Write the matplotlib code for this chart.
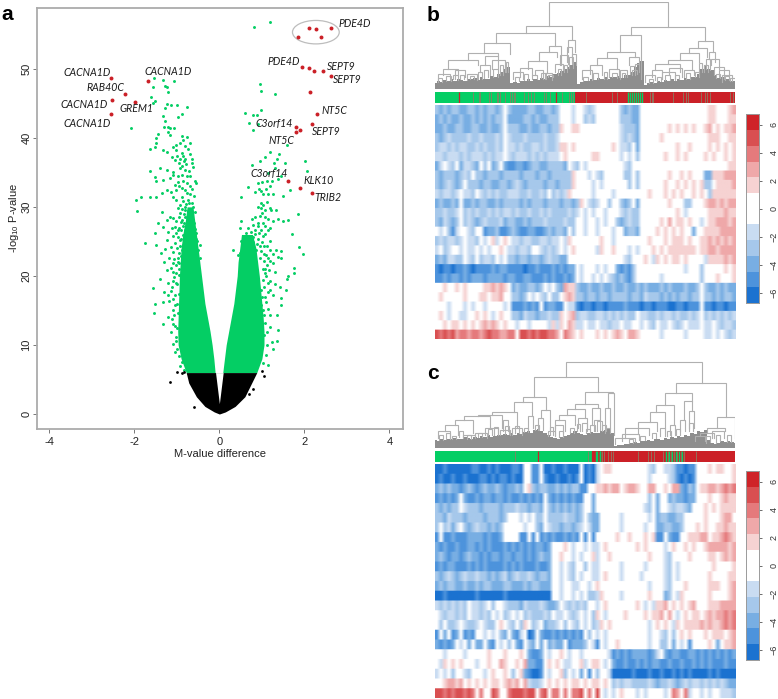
#!/usr/bin/env python3
# volcano plot (a) and two clustered methylation heatmaps (b, c)
import numpy as np
import matplotlib
matplotlib.use("Agg")
import matplotlib.pyplot as plt
from matplotlib.colors import to_rgb
from matplotlib.patches import Ellipse

plt.rcParams['font.family'] = ['Liberation Sans', 'DejaVu Sans']
plt.rcParams['mathtext.default'] = 'regular'

W, H = 778, 699
GREEN = '#04CE64'
RED = '#CB2027'
LINE = '#ABABAB'

# =============================================================================
# Volcano data
# =============================================================================
red_points = [(2.10, 55.85), (2.27, 55.8), (2.62, 55.9), (1.86, 54.6), (2.40, 54.6),
              (1.94, 50.3), (2.10, 50.1), (2.22, 49.7), (2.44, 49.7), (2.62, 48.9),
              (2.14, 46.6), (2.29, 43.4), (2.17, 42.0), (1.81, 41.5), (1.90, 41.1),
              (1.81, 40.8), (1.62, 33.8), (1.90, 32.8), (2.17, 32.0), (-2.54, 48.7),
              (-1.68, 48.3), (-2.22, 46.3), (-2.52, 45.5), (-1.99, 45.2), (-2.55, 43.4)]

gene_names = ['CACNA1D', 'CACNA1D', 'RAB40C', 'CACNA1D', 'GREM1', 'CACNA1D', 'PDE4D',
              'PDE4D', 'SEPT9', 'SEPT9', 'NT5C', 'C3orf14', 'SEPT9', 'NT5C', 'C3orf14',
              'KLK10', 'TRIB2']
gene_x = [-3.12, -1.20, -2.69, -3.18, -1.96, -3.11, 3.19, 1.52, 2.87, 3.02, 2.70,
          1.29, 2.52, 1.46, 1.16, 2.33, 2.56]
gene_y = [49.5, 49.6, 47.3, 44.8, 44.2, 42.1, 56.6, 51.0, 50.4, 48.5, 43.9, 42.1,
          40.9, 39.6, 34.8, 33.8, 31.3]

# sparse green points, left arm
green_left = [(-1.53, 48.6), (-1.32, 48.4), (-1.07, 48.2), (-1.56, 47.3), (-1.28, 47.5),
              (-1.24, 47.3), (-1.20, 46.6), (-1.60, 45.9), (-1.52, 45.4), (-1.57, 45.0),
              (-2.08, 41.4), (-1.23, 44.9), (-1.13, 44.8), (-0.99, 44.8), (-0.76, 44.5),
              (-1.28, 44.3), (-1.32, 43.1), (-0.89, 43.5), (-0.97, 43.0), (-1.27, 42.5),
              (-1.30, 41.6), (-1.20, 41.6), (-1.16, 41.4), (-1.07, 41.4), (-1.20, 40.9),
              (-1.15, 40.4), (-1.45, 40.5), (-1.48, 40.0), (-1.50, 39.2), (-1.52, 38.7),
              (-1.64, 38.4), (-0.89, 40.2), (-0.77, 40.1), (-0.85, 39.7), (-0.93, 39.2),
              (-1.01, 39.0), (-1.09, 38.7), (-1.32, 38.3), (-1.24, 38.0), (-1.01, 38.3),
              (-0.89, 37.8), (-0.69, 37.7), (-0.65, 36.9), (-0.65, 36.3), (-1.64, 35.2),
              (-1.40, 35.6), (-1.24, 35.4), (-1.09, 35.1), (-0.93, 35.6), (-0.81, 35.4),
              (-1.52, 34.3), (-1.48, 33.7), (-1.32, 33.9), (-1.16, 34.2), (-1.09, 34.6),
              (-0.97, 34.4), (-0.89, 34.6), (-0.77, 34.4), (-0.58, 33.7), (-0.54, 33.5),
              (-1.96, 31.0), (-1.85, 31.5), (-1.93, 29.4), (-1.64, 31.5), (-1.48, 31.5),
              (-1.35, 29.3), (-1.36, 32.0), (-1.24, 32.5), (-1.13, 32.2), (-1.09, 31.5),
              (-1.01, 31.0), (-0.89, 31.5), (-0.73, 31.0), (-0.65, 30.5), (-0.62, 30.0),
              (-0.81, 30.0), (-0.97, 29.8), (-0.93, 29.1), (-0.69, 29.1), (-1.09, 28.4),
              (-1.24, 28.1), (-1.16, 28.6), (-1.44, 27.6), (-1.52, 26.2), (-1.75, 24.7),
              (-1.48, 24.5), (-1.32, 27.1), (-1.20, 26.4), (-1.05, 27.1), (-0.89, 28.1),
              (-0.81, 28.6), (-0.62, 28.1), (-0.62, 27.1), (-0.54, 26.2), (-0.46, 24.5),
              (-1.24, 25.2), (-1.01, 26.2), (-0.93, 25.2), (-1.05, 24.7), (-0.77, 27.1),
              (-0.81, 26.2), (-0.69, 25.2), (-0.92, 37.0), (-0.84, 36.6), (-0.78, 36.2),
              (-0.95, 36.4), (-1.05, 36.8), (-1.12, 37.2), (-0.88, 35.9), (-0.72, 35.2),
              (-0.70, 34.4), (-0.85, 33.8), (-0.76, 33.4), (-0.70, 33.0), (-0.64, 32.6),
              (-0.95, 33.0), (-0.88, 32.8), (-0.82, 32.4), (-0.76, 32.0), (-0.68, 31.8),
              (-0.72, 30.6), (-0.78, 30.4), (-0.85, 30.8), (-0.92, 30.3), (-0.88, 29.7),
              (-0.80, 29.6), (-0.74, 29.4), (-0.66, 29.6), (-0.71, 28.8), (-0.77, 28.6),
              (-0.84, 28.9), (-0.95, 28.5), (-0.90, 27.8), (-0.83, 27.7), (-0.75, 28.0),
              (-0.68, 27.9), (-0.60, 27.6), (-0.70, 27.2), (-0.86, 27.2), (-0.95, 27.0),
              (-0.90, 26.6), (-0.82, 26.7), (-0.74, 26.8), (-0.66, 26.6), (-0.58, 26.8),
              (-0.62, 26.0), (-0.72, 26.1), (-0.78, 25.8), (-0.86, 25.9), (-0.98, 25.6),
              (-1.10, 25.8), (-0.90, 25.3), (-0.82, 25.3), (-0.75, 25.4), (-0.64, 25.3),
              (-0.56, 25.4), (-0.60, 24.6), (-0.68, 24.7), (-0.74, 24.6), (-0.80, 24.7),
              (-0.86, 24.5), (-0.92, 24.3), (-1.00, 24.0), (-1.14, 24.2), (-1.28, 23.9),
              (-1.38, 23.3), (-1.10, 23.4), (-0.96, 23.3), (-0.88, 23.7), (-0.82, 23.9),
              (-0.76, 23.8), (-0.70, 23.9), (-0.64, 23.9), (-0.57, 24.0), (-0.50, 23.7),
              (-0.52, 23.0), (-0.60, 23.2), (-0.66, 23.1), (-0.72, 23.2), (-0.78, 23.2),
              (-0.84, 23.1), (-0.90, 22.9), (-0.98, 22.6), (-1.06, 22.4), (-1.18, 22.6),
              (-1.30, 22.0), (-1.10, 21.8), (-1.02, 21.6), (-0.94, 21.9), (-0.46, 22.6),
              (-1.10, 20.6), (-1.02, 20.4), (-0.96, 20.2), (-1.24, 20.8), (-1.40, 19.6),
              (-1.22, 19.0), (-1.08, 19.2), (-1.00, 18.8), (-1.56, 18.2), (-1.30, 17.6),
              (-1.14, 17.8), (-1.04, 17.2), (-0.96, 17.4), (-1.52, 16.0), (-1.32, 16.2),
              (-1.18, 16.4), (-1.04, 15.8), (-1.53, 14.7), (-1.32, 13.0), (-1.20, 14.1),
              (-1.09, 13.1), (-1.13, 11.9), (-1.01, 11.2), (-1.09, 10.2), (-1.05, 9.0),
              (-0.89, 7.6), (-0.93, 6.9), (-1.00, 12.4), (-0.98, 14.6), (-1.10, 15.0),
              (-1.14, 21.2), (-1.06, 19.8), (-1.12, 18.4), (-1.20, 17.2), (-1.08, 16.6),
              (-1.02, 19.0), (-1.00, 16.0), (-1.06, 14.4), (-1.12, 13.8), (-1.04, 12.8),
              (-1.03, 10.6), (-0.99, 9.4), (-0.94, 8.4), (-0.84, 6.4), (-0.98, 22.0),
              (-0.96, 21.0), (-0.62, 35.8), (-0.80, 37.0), (-0.74, 38.4), (-0.82, 38.8),
              (-0.70, 39.2), (-0.86, 37.4), (-1.00, 37.4), (-0.98, 33.6), (-1.04, 33.2),
              (-1.02, 32.4), (-0.60, 31.6), (-0.58, 29.2), (-1.02, 28.0), (-0.98, 26.6),
              (-0.52, 25.0), (-1.12, 27.0)]

# sparse green points, right arm
green_right = [(1.20, 56.8), (0.82, 56.1), (0.96, 47.8), (0.97, 46.8), (1.32, 46.4), (0.60, 43.6),
               (0.80, 43.3), (0.98, 44.0), (0.88, 43.3), (0.70, 42.2), (0.90, 42.0), (0.80, 41.2),
               (1.60, 38.9), (1.20, 38.0), (1.41, 37.6), (1.07, 37.2), (0.95, 36.7), (1.36, 36.9),
               (0.76, 36.1), (1.28, 36.4), (1.54, 36.4), (2.01, 36.6), (2.05, 35.2), (1.15, 34.9),
               (1.46, 34.4), (1.11, 33.7), (1.23, 33.7), (1.38, 34.0), (1.66, 32.4), (0.68, 32.9),
               (0.94, 32.6), (0.84, 32.2), (0.99, 32.3), (1.03, 31.8), (1.15, 31.8), (1.26, 31.8),
               (1.50, 31.6), (0.50, 31.4), (0.97, 30.6), (1.03, 30.3), (0.99, 29.8), (1.07, 29.6),
               (1.22, 29.6), (1.34, 29.6), (1.01, 29.1), (1.84, 28.9), (0.76, 28.2), (0.52, 27.9),
               (0.91, 27.7), (1.03, 27.7), (1.27, 27.9), (1.38, 28.2), (1.50, 27.9), (1.62, 28.1),
               (0.48, 26.9), (0.68, 26.9), (0.83, 26.7), (0.99, 26.7), (1.15, 26.7), (1.70, 26.0),
               (0.79, 25.7), (1.03, 25.8), (0.91, 25.3), (0.71, 25.1), (0.59, 24.8), (1.18, 25.0),
               (0.32, 23.8), (1.88, 24.2), (1.96, 23.2), (0.48, 23.3), (0.56, 23.1), (0.71, 23.5),
               (0.87, 23.8), (0.99, 23.6), (1.10, 23.1), (1.34, 23.8), (1.46, 23.6), (1.38, 22.8),
               (1.46, 22.6), (1.18, 22.1), (1.26, 21.9), (0.88, 24.6), (0.76, 24.2), (0.64, 24.3),
               (0.95, 24.3), (1.06, 24.4), (0.55, 24.0), (0.44, 23.0), (0.62, 22.8), (0.82, 22.9),
               (0.95, 22.6), (1.04, 22.2), (1.12, 21.6), (1.02, 21.0), (1.16, 20.8), (1.30, 20.6),
               (1.76, 21.2), (1.76, 20.4), (1.62, 20.0), (1.58, 19.6), (1.10, 20.0), (1.02, 19.4),
               (1.20, 19.2), (1.30, 18.8), (1.42, 18.4), (1.56, 18.0), (1.06, 18.4), (0.98, 18.0),
               (1.14, 17.6), (1.26, 17.2), (1.00, 17.0), (1.44, 16.8), (1.10, 16.2), (0.98, 15.8),
               (1.46, 15.8), (1.35, 14.3), (1.19, 14.3), (1.38, 12.2), (1.35, 10.6), (1.23, 10.5),
               (1.27, 9.4), (1.11, 10.0), (1.15, 7.1), (1.03, 7.4), (1.20, 12.6), (1.08, 13.2),
               (1.04, 11.4), (1.10, 8.6), (1.02, 15.0), (1.14, 15.2), (0.85, 26.0), (0.94, 26.2),
               (1.08, 26.0), (0.74, 26.4), (0.62, 26.2), (0.55, 25.6), (0.50, 25.0), (0.66, 25.6),
               (0.80, 24.9), (1.00, 24.9), (1.12, 24.3), (1.20, 23.7), (1.26, 23.2), (1.06, 23.2),
               (1.14, 22.6), (1.08, 21.0), (0.92, 27.2), (0.78, 27.4), (1.08, 27.2), (1.20, 27.0),
               (1.14, 28.2), (0.84, 28.6), (0.96, 28.7), (1.08, 28.6), (0.90, 30.0), (1.12, 30.7),
               (1.18, 29.9), (1.10, 32.6), (1.20, 33.0), (0.90, 33.4), (1.00, 33.6), (1.30, 35.6),
               (1.08, 20.4), (1.14, 19.0), (1.20, 18.0), (1.08, 17.0), (1.06, 14.4), (1.12, 11.9)]

black_points = [(-1.15, 4.6), (1.05, 5.5), (-1.00, 6.1), (-0.87, 5.9), (-0.83, 6.1),
                (1.01, 6.2), (0.78, 3.65), (-0.60, 1.0), (0.70, 2.9)]

# outline of the solid green mass: height, then outer and inner edge of each arm
mass_y = [6, 8, 10, 12, 14, 16, 18, 20, 22, 24, 26, 28, 30]
mass_left_outer = [-0.78, -0.90, -0.97, -0.98, -0.97, -0.96, -0.95, -0.94, -0.92, -0.90, -0.86, -0.80, -0.76]
mass_left_inner = [-0.10, -0.13, -0.17, -0.22, -0.28, -0.34, -0.38, -0.42, -0.46, -0.50, -0.54, -0.58, -0.62]
mass_right_y = [6, 8, 10, 12, 14, 16, 18, 20, 22, 24, 26]
mass_right_inner = [0.08, 0.12, 0.16, 0.22, 0.28, 0.34, 0.38, 0.42, 0.44, 0.48, 0.52]
mass_right_outer = [0.88, 1.00, 1.05, 1.05, 1.03, 1.00, 0.97, 0.94, 0.90, 0.86, 0.78]

# outline of the black mass below the significance line
black_y = [0.0, 0.3, 1.1, 2.5, 4.5, 6.0]
black_left_outer = [0.0, -0.12, -0.34, -0.54, -0.72, -0.78]
black_right_outer = [0.0, 0.14, 0.37, 0.60, 0.76, 0.88]
black_gap_y = [1.5, 6.0]
black_gap_half = [0.0, 0.09]

# =============================================================================
# Heatmap data: one string per row, '.' white, a-e blue, 1-5 red (light to strong)
# =============================================================================
heat_b = [
    "bcbcb bccbb cbcbb cb.bc cccbb ccbbc b...a ..aba ..... .bcbc c.... ..... ..... ...11 ...12",
    "cbcbc cbccb cbcbc bb.cc ccbbc bccbb b...a ..bab ..... .bbbc c.... ..... ..... ...11 ...11",
    "ccbcc bbccb bccbc cb.bb bccbc cbbcb b1..1 1.... ..... .abbb c.... ...1. 1.1.1 ..12. 1.112",
    "bcbab bbbab babbb ab.ab bbabb bbabb a.... ..... ..... .abab c.... .1... ..... ...11 1..11",
    "baaba baabb ababb ab.aa babba ababb a11.1 ..... ....1 .aab. c.... ..... 1..1. ...1. 1.1.1",
    "aabaa ababa aabab aa.ab aaaba babaa a.1.. ....1 1.... .a.a. b.... ..1.. 1.1.. ..1.1 ..1.1",
    "ca.ab .caab c.b.c b.cdd ccdcb bccbb bbc.a b.a.. ..... ..ab. ..... ..... ..... ..... ...11",
    "bcbbb cbab. bbcbb bcbbb bcbbb cbbcb bbbb1 ...a. ab... ..bb. b.... ...1. .1.1. ..cc1 11222",
    "bcbab cb.bb bcbbc cbbcb abcbb bbcbb cbbb1 ....a .a... ...b. b.... ..1.. 1.1.1 .1bb. 11112",
    "abaab a.aab .abab abbaa abbab bab.b aba1. ....a ....a ..... ...1. ..1.1 .1..1 .1.b1 11111",
    "cbccb c.ccb cbbcc bcbbb bcbcb bbcbb bcbbc b1.ab a..b. .bcb. c.... ...1. ..bb. ..122 12122",
    "bbabb a.bab abbab abaab abbab babab bbbab a.a.a ..a.. .abab b.... ..... 1.a.. ...11 11211",
    "bcabc b.bab cbabb bacbb ccbcb bbabb bbabb ..a.. a.a.. bcbab b.... .1.2. 11.1. .a.11 22212",
    ".a.bd a..ab ..dcc bddcb cddcc ddcbc bbc.b ..a.. a...a ..cbb c.... 1.1.1 .1..c ..111 12222",
    "babaa ba.aa b.a.1 a.1.a abaab baaba a.a1. ..... .1..a ..... ...1. ..1.1 11.1. .1121 21212",
    "a.ba. .a.aa .a.a. .1.aa baab. .abab a.a.1 ..... a1..1 ...a. a...1 .1.11 11111 .1122 12222",
    "cbcaa bb.ab .baab .a.bb cbbcb bcbab bcc.. ..... ..... ..ab. ..1.a 1.1.1 1.1.. ..a11 11212",
    "dedde ddcde ddddc dccdd ddedd cdddc dcdcc .a... a.a.. cdcdb ..... ..... ..a.. .b... ..1.1",
    "ddcdc cdcdc ccdcc ccdcc ddccd ddcdc ddcdc .a..a .a.ab cbcdb ..... .a... ..... .b... 1...1",
    "..1.. 1.1.. ..112 121.c bccbb cb.a. bc211 bccbc cbccb ccbcc bcbcc cbcbc ccbcc b.bcc bcbcc",
    ".1... ..1.. .11.1 12..b bcb.a .ab.b b.121 bbcbb cbbcb bbbcb bcabb bcbcb cbbcb b.bbc bcbbc",
    "...a. ..a.a ..a.. ..a.d ddcdc d.dcc dd.aa dedde ddedd ddcdd dedde dddee ddedd d.dde ddedd",
    ".1.a. .aa.. 1.1.a .1..b bcabb cbbab b1.12 baabb aabab ababb .aabb abaab abbab a.bab ababa",
    "..1.1 1.1.1 .1212 1.1.. a..a. ...a1 a1.21 aa.aa .aaba a.aa. .a.ab .aa.a ba.aa a.aa. abaab",
    "43434 23323 32343 32233 .4434 34433 2.321 .1... 1.1.1 21.22 1.... .a... ..a.. ..aa. a.aba",
]

heat_c = [
    "eedee eeeed deede deeed de..d d.eed eedee e.ede a.11. ..... ...ab ..aab ddedd ...1. 11..1",
    "edeed eedee edded edded ee..d d.dee deede d.ede a.... ..... ...a. ...ab deded ..... ....1",
    "cbcbc cdcbc dcbcc bcdcc bc.1b cbbcc bcbcb bdd.. 11212 2.122 1..22 ..1.2 2cdbc .1122 12323",
    "dcdcd c.cdd cdccd ccdcd dcdcd cd.cd cdcdc dd..c ..... ..... ...b. c..cb ccdcc ...1. .1211",
    "bcbcb b.abb bcbbb bcbbb abbcb bc.bc bcbcb cb..c ..... ..... ..ab. c..ab aabc. ..1.1 .1111",
    "bbcab bbcbb bbcbb bcb.. .a.a. bb.bb bbabb cb.bc c.... .a... ...a. cbbcc bb... ..1.. .122.",
    "b.bac a.bcb abbcb cb... ..a.. bc.ab bcbbc ba.ac c.... .a... ..a.. ccbbc cb... 1.1.. 11211",
    "d.ddc dddcc ccdcd dc... .dd.d .dcdc ddcdc d.d.d ..... 1..1. ..1.1 dd.cd d..11 122.1 12321",
    "cdcdd cddcc dcdcd ddcdc dcdcd ccdc. ..1.a ..a.a a.1.. ..... 1.1.. ..a.1 ..1.1 ..122 22212",
    "cbcdc cdcbc cdcdc cdccd ccdcd cbcc. .1..a .a..1 a..1. ..... ...1. ..ab. ...1. ...11 .1212",
    "dcdcc dddcd cdcdd ddcdc dcddd cddc. .a.ab ..b.a a.... .a... ..a.. ..ab. a.... ....1 ....1",
    "bcbab cbabb abbcb cbacb abbab cbbc. .a.ab .a..a a.1.. .a... .a... ..ab. a.... ...1. ...11",
    "cbcbb ccbcc bcbbc ccbbc ccbcb bccc. .a..a a..a. 1.... ..... ...a. ..ab. ..1.. ...11 1..12",
    "eedee eeeee deeee eedee eeeee eeee. .a..a .a.bb a1... .a... ...1. ..cb. a1... ...1. ...12",
    "ababa bab.a aba.b ..abb bcabb babcc b.aba bab.. a.1.. ..... 1.a.a 112.1 .1.12 ...11 12222",
    ".abaa bab.a abab. a.ba. a.bab bbab. aa.ab a.a.b 1.a.. ..1.. ..1.1 12.2. a.1.1 1.121 22323",
    ".b.bb a.abb a.abb .1.ab .b1.b a.cbb a.b.a b.a.b a1.1. ..... ...a. 1.1.a 1.111 12121 12323",
    "d.c.d c.dcd ..a.a .bc.c da.ed .cddc dcdcd cd.b. a.a.. ..... ...a. .ab.b .1.1. ..1.1 11.12",
    "cdcdc .a.c. cc.cd .a.b. cd.bc .c.cb cc.dc ccb.a d.a.. 1.... ...a. .bb.c .a.d. ...1. c.112",
    "..a.. ..a.. ...1. ..1.. .1.cd dc.a. .1.a. .a... ...ad cdcdc cccdc a.cdc cddcc dcdcd cdcdc",
    ".a1.1 .1... a..1. .21.. 1.2cc dd.1. 1.aa. .1a.1 1.a.c ddcdd cdcdc cddcd dcddc dcdcd ddcdd",
    "a.a.b ..ab. ..a.1 ..1.b .1cde ed.a. .1b.a .c.d. b..ae eeeed eeede edeed edede eeede deeee",
    "..122 12.1. 1.1.1 1.121 2.2ab ba.1. 1.1.1 1.1.1 1.1.b abaab bbbab cbbab cbaba ababa babcc",
    "44343 44343 .3..4 3..34 44344 .34.3 3.3.3 34.3. 4.a.a .1... a.a.. ..a.3 2.3a. .a.a. .aaab",
]

heat_colors = ['#1B72D0', '#4D93DC', '#78AEE3', '#A6C8EB', '#C9DCF2', '#FFFFFF',
               '#F6D2D2', '#EFA8A9', '#E57A7C', '#D94F51', '#CF2328']
heat_keys = 'edcba.12345'

# colour bar bins, blue to red
bar_edges = [-6.75, -5.62, -4.49, -3.36, -2.23, -1.1, 1.1, 2.23, 3.36, 4.49, 5.62, 6.75]
bar_ticks = [-6, -4, -2, 0, 2, 4, 6]

# sample colour strips: percent position along the heatmap
strip_b_green_end = 46.6
strip_b_red_in_green = [8.1, 40.3]
strip_b_grey = [12.5, 14.5, 15.0, 18.0, 18.8, 20.5, 21.0, 21.6, 23.3, 25.0, 25.6, 26.2, 26.8,
                29.5, 31.0, 32.1, 33.0, 36.3, 37.0, 38.3, 42.2, 44.6, 45.2, 45.9,
                50.2, 59.0, 60.5, 71.6, 72.2, 72.7, 79.1, 82.7, 83.5, 84.4, 88.6, 89.9,
                90.6, 91.5, 98.4, 99.3]
strip_b_green_in_red = [64.4, 65.0, 65.5, 66.2, 66.9, 67.7, 68.3, 68.8]

strip_c_green_end = 52.3
strip_c_red_in_green = [34.4]
strip_c_grey = [26.5, 50.8, 55.5, 56.2, 57.5, 58.6, 59.2, 67.7, 70.8, 71.9, 73.0, 75.8, 77.5,
                78.5, 79.6, 80.6, 81.8, 83.0, 86.9]
strip_c_red_spans = [52.3, 52.8, 53.2, 54.5, 56.8, 58.0, 60.0]
strip_c_green_in_red = [53.6, 54.0, 54.8, 55.0, 76.8, 78.0, 79.0, 80.2, 81.2, 82.4]

# =============================================================================
# Dendrogram data: leaf position (0-900 along the heatmap) and link heights,
# each link is (left, right, height, left child height, right child height)
# =============================================================================
tree_b = [(341, 698, 259, 187, 186), (272, 410, 187, 168, 149), (184, 360, 168, 137, 129),
          (146, 225, 137, 107, 104), (100, 190, 107, 86, 99), (40, 130, 86, 60, 70),
          (25, 70, 60, 40, 40), (342, 378, 129, 111, 70), (313, 365, 111, 84, 94),
          (280, 335, 84, 60, 50), (398, 420, 146, 109, 109), (587, 810, 186, 160, 144),
          (555, 618, 160, 109, 30), (515, 600, 109, 92, 94), (487, 545, 92, 70, 60),
          (580, 610, 94, 70, 70), (787, 832, 144, 121, 109), (760, 815, 121, 106, 94),
          (733, 790, 106, 86, 80), (697, 770, 86, 74, 60), (660, 735, 74, 55, 50),
          (822, 840, 109, 89, 80), (828, 852, 89, 70, 60), (150, 190, 99, 70, 60),
          (135, 165, 72, 50, 40), (170, 210, 85, 60, 50), (10, 45, 45, 25, 25),
          (60, 90, 55, 30, 35), (95, 125, 45, 25, 25), (235, 265, 50, 28, 28),
          (255, 290, 62, 35, 40), (300, 325, 55, 40, 30), (330, 350, 48, 30, 25),
          (360, 385, 75, 50, 55), (375, 400, 100, 70, 75), (395, 412, 125, 80, 80),
          (410, 422, 105, 75, 70), (440, 470, 55, 30, 25), (465, 500, 70, 45, 40),
          (520, 550, 60, 35, 35), (555, 575, 55, 30, 35), (585, 600, 68, 45, 40),
          (598, 612, 75, 45, 50), (630, 660, 40, 20, 25), (650, 680, 55, 35, 30),
          (680, 720, 50, 30, 25), (700, 740, 62, 40, 35), (745, 775, 55, 35, 40),
          (790, 800, 78, 50, 50), (812, 825, 90, 60, 55), (850, 880, 55, 35, 30),
          (860, 890, 42, 20, 22), (835, 865, 65, 40, 30),
          (8, 22, 32, 20, 20), (32, 48, 38, 24, 24), (55, 68, 42, 28, 26), (75, 88, 40, 28, 28),
          (105, 118, 38, 28, 28), (128, 142, 50, 30, 30), (148, 160, 55, 32, 34), (175, 188, 58, 34, 34),
          (195, 205, 72, 40, 40), (212, 220, 80, 50, 50), (240, 252, 36, 22, 24), (268, 280, 44, 26, 26),
          (292, 305, 42, 28, 30), (318, 332, 46, 32, 30), (340, 355, 40, 34, 34), (368, 378, 60, 40, 42),
          (388, 396, 70, 50, 50), (402, 414, 95, 62, 62), (445, 458, 36, 22, 26), (475, 490, 48, 28, 30),
          (505, 515, 50, 30, 30), (530, 545, 48, 34, 32), (560, 570, 46, 36, 34), (590, 605, 55, 40, 45),
          (640, 652, 30, 18, 18), (665, 678, 36, 22, 22), (690, 705, 40, 26, 26), (720, 732, 42, 28, 28),
          (752, 765, 48, 30, 30), (780, 792, 50, 34, 34), (805, 818, 70, 50, 50), (842, 855, 45, 32, 32),
          (868, 880, 38, 26, 26), (885, 898, 32, 22, 22)]

tree_c = [(393, 800, 260, 215, 196), (298, 488, 215, 153, 170), (265, 332, 153, 138, 115),
          (238, 290, 138, 108, 95), (172, 245, 108, 100, 60), (130, 200, 100, 95, 60),
          (88, 165, 95, 83, 60), (60, 115, 83, 68, 45), (30, 70, 68, 50, 40),
          (10, 45, 50, 30, 30), (318, 345, 115, 90, 50), (451, 532, 170, 133, 165),
          (517, 535, 165, 120, 38), (420, 490, 133, 118, 120), (397, 450, 118, 100, 90),
          (372, 420, 100, 85, 70), (470, 495, 120, 70, 85), (360, 390, 85, 60, 50),
          (430, 455, 90, 60, 55), (485, 500, 80, 50, 50), (510, 525, 120, 60, 60),
          (723, 873, 196, 165, 93), (690, 770, 165, 131, 143), (745, 770, 143, 85, 110),
          (662, 715, 131, 108, 70), (645, 690, 108, 78, 60), (608, 665, 78, 42, 50),
          (570, 640, 60, 30, 40), (845, 898, 93, 61, 30), (815, 870, 61, 45, 50),
          (795, 835, 45, 35, 30), (830, 865, 50, 30, 30), (780, 810, 35, 20, 20),
          (540, 600, 30, 12, 18), (560, 610, 42, 20, 25), (705, 720, 70, 40, 40),
          (735, 750, 85, 50, 50), (760, 775, 110, 60, 60), (675, 690, 60, 35, 35),
          (85, 120, 40, 30, 30), (120, 155, 45, 30, 30), (150, 190, 60, 38, 40),
          (195, 225, 55, 40, 40), (205, 220, 85, 50, 50), (230, 260, 60, 40, 40),
          (280, 295, 95, 55, 60), (310, 325, 90, 55, 55), (340, 360, 50, 35, 35),
          (360, 385, 70, 40, 45), (440, 455, 75, 50, 50), (465, 480, 70, 50, 50),
          (478, 495, 85, 50, 55), (510, 525, 60, 45, 45),
          (12, 24, 38, 24, 24), (32, 44, 44, 26, 26), (52, 64, 36, 26, 26), (72, 84, 50, 32, 32),
          (96, 108, 38, 28, 28), (130, 142, 46, 32, 32), (158, 170, 56, 38, 38), (178, 190, 62, 40, 40),
          (210, 222, 66, 42, 42), (240, 252, 66, 44, 44), (268, 280, 60, 48, 48), (300, 312, 70, 54, 54),
          (345, 355, 62, 38, 38), (372, 384, 50, 32, 32), (405, 418, 60, 44, 44), (425, 436, 72, 52, 52),
          (452, 464, 56, 44, 44), (500, 512, 68, 50, 50), (580, 592, 26, 16, 16), (615, 628, 36, 24, 24),
          (650, 662, 44, 30, 30), (695, 708, 50, 36, 36), (722, 735, 58, 40, 40), (762, 772, 74, 52, 52),
          (812, 825, 36, 16, 18), (842, 855, 40, 16, 20), (875, 888, 38, 18, 18)]

# top of the solid grey leaf mass under each tree, one value every 10 leaf units
mass_b_h = [18, 22, 20, 26, 24, 28, 22, 30, 26, 24, 30, 28, 32, 26, 34, 30, 28, 38, 34, 44, 50, 58, 64,
            16, 20, 18, 24, 22, 28, 24, 30, 26, 32, 30, 38, 36, 44, 48, 54, 60, 66, 72, 80,
            14, 20, 24, 22, 28, 26, 32, 28, 34, 30, 36, 34, 38, 32, 40, 42, 50, 64, 78,
            84, 12, 16, 20, 18, 24, 20, 26, 22, 28, 24, 30, 26, 32, 28, 36, 34, 44, 60, 70, 60,
            55, 40, 32, 36, 28, 30, 24, 22]
mass_c_h = [24, 22, 26, 24, 28, 26, 30, 28, 26, 32, 30, 28, 34, 30, 36, 32, 38, 34, 36, 40, 38, 42, 38,
            44, 40, 46, 42, 48, 50, 46, 54, 58, 52, 44, 38, 34, 30, 28, 32, 36, 40, 44, 52, 46, 42,
            40, 44, 48, 46, 44, 50, 54, 58, 46,
            6, 8, 10, 12, 12, 14, 18, 16, 20, 22, 24, 22, 26, 28, 24, 30, 26, 34, 30, 36, 32, 40, 36,
            46, 42, 52, 48, 54, 24, 16, 12, 16, 20, 18, 22, 18, 16]


# =============================================================================
# Helpers
# =============================================================================
fig = plt.figure(figsize=(W / 100, H / 100), dpi=100)


def place(x0, y0, x1, y1):
    return fig.add_axes([x0 / W, 1 - y1 / H, (x1 - x0) / W, (y1 - y0) / H])


def draw_tree(box, links, mass_h):
    ax = place(*box)
    ax.set_xlim(0, 900)
    ax.set_ylim(0, 262)
    ax.axis('off')
    for l, r, h, hl, hr in links:
        ax.plot([l, l, r, r], [hl, h, h, hr], color='#B0B0B0', lw=0.8, solid_joinstyle='miter')
    ax.fill_between(np.arange(len(mass_h)) * 10, 0, mass_h, step='mid', color='#8E8E8E', lw=0)


def draw_strip(box, base_end, red_lines, grey_lines, green_lines, red_extra=()):
    ax = place(*box)
    ax.set_xlim(0, 100)
    ax.set_ylim(0, 1)
    ax.axis('off')
    ax.axvspan(0, base_end, color=GREEN, lw=0)
    ax.axvspan(base_end, 100, color=RED, lw=0)
    ax.vlines(red_lines, 0, 1, color=RED, lw=0.9)
    ax.vlines(list(red_extra), 0, 1, color=RED, lw=0.9)
    ax.vlines(grey_lines, 0, 1, color='#8A7D62', lw=0.6)
    ax.vlines(green_lines, 0, 1, color=GREEN, lw=1.0)


def draw_heat(box, rows):
    ax = place(*box)
    rgb = np.array([to_rgb(c) for c in heat_colors])
    cells = np.array([[heat_keys.index(c) for c in r.replace(' ', '')] for r in rows])
    # rows stay crisp, the stripes inside a row get the soft look of the print
    ax.imshow(rgb[np.repeat(cells, 12, axis=0)], aspect='auto', interpolation='bilinear')
    ax.axis('off')


def draw_bar(box):
    ax = place(*box)
    for i, c in enumerate(heat_colors):
        ax.barh(bar_edges[i], 1, height=bar_edges[i + 1] - bar_edges[i], color=c,
                align='edge', lw=0)
    ax.set_xlim(0, 1)
    ax.set_ylim(bar_edges[0], bar_edges[-1])
    ax.set_xticks([])
    ax.yaxis.tick_right()
    ax.set_yticks(bar_ticks)
    ax.tick_params(axis='y', length=2, width=0.6, color='#555555', pad=6, labelsize=6.5,
                   labelcolor='#333333')
    for t in ax.get_yticklabels():
        t.set_rotation(90)
        t.set_va('center')
    for s in ax.spines.values():
        s.set_color('#9A9A9A')
        s.set_linewidth(0.7)


# =============================================================================
# a: volcano
# =============================================================================
ax = place(37, 8, 403, 429)
ax.set_xlim(-4.29, 4.32)
ax.set_ylim(-2.17, 58.8)

ax.fill_betweenx(mass_y, mass_left_outer, mass_left_inner, color=GREEN, lw=0)
ax.fill_betweenx(mass_right_y, mass_right_inner, mass_right_outer, color=GREEN, lw=0)
ax.fill_betweenx(black_y, black_left_outer, black_right_outer, color='black', lw=0)
ax.fill_betweenx(black_gap_y, -np.array(black_gap_half), black_gap_half, color='white', lw=0)

for pts, col, size in [(green_left, GREEN, 4.5), (green_right, GREEN, 4.5),
                       (black_points, 'black', 4), (red_points, RED, 8)]:
    arr = np.array(pts)
    ax.scatter(arr[:, 0], arr[:, 1], s=size, color=col, lw=0, zorder=3)

ax.add_patch(Ellipse((2.27, 55.3), 1.10, 3.4, fill=False, edgecolor='#BDBDBD', lw=0.9, zorder=2))

for name, x, y in zip(gene_names, gene_x, gene_y):
    ax.text(x, y, name, style='italic', fontsize=7.6, ha='center', va='center', zorder=4,
            family=['Lato', 'DejaVu Sans'], color='#1A1A1A')

ax.set_xticks([-4, -2, 0, 2, 4])
ax.set_xticklabels(['-4', '-2', '0', '2', '4'])
ax.set_yticks([0, 10, 20, 30, 40, 50])
ax.tick_params(axis='x', labelsize=8, length=3, width=0.7, color='#777777', labelcolor='#222222', pad=2.5)
ax.tick_params(axis='y', labelsize=8, length=3, width=0.7, color='#777777', labelcolor='#222222', pad=1)
for t in ax.get_yticklabels():
    t.set_rotation(90)
    t.set_va('center')
ax.set_xlabel('M-value difference', fontsize=8, color='#222222', labelpad=2)
ax.set_ylabel('-log$_{10}$ P-value', fontsize=8, color='#222222', labelpad=0)
for s in ax.spines.values():
    s.set_color(LINE)
    s.set_linewidth(1.3)

# =============================================================================
# b and c: clustered heatmaps
# =============================================================================
draw_tree((435, 1.5, 735.3, 88.5), tree_b, mass_b_h)
draw_strip((435, 92, 735.3, 102.7), strip_b_green_end, strip_b_red_in_green, strip_b_grey,
           strip_b_green_in_red)
draw_heat((435, 104.7, 735.3, 338.7), heat_b)
draw_bar((746.3, 114, 758.7, 303.3))

draw_tree((435, 361, 735.3, 448), tree_c, mass_c_h)
draw_strip((435, 451.3, 735.3, 462), strip_c_green_end, strip_c_red_in_green, strip_c_grey,
           strip_c_green_in_red, strip_c_red_spans)
draw_heat((435, 464, 735.3, 697.7), heat_c)
draw_bar((746.3, 471, 758.7, 660))

for letter, x, y in [('a', 1, 20), ('b', 427, 21), ('c', 427, 379)]:
    fig.text(x / W, 1 - y / H, letter, fontsize=15, fontweight='bold', ha='left', va='baseline')

fig.savefig('out.png', dpi=100)
